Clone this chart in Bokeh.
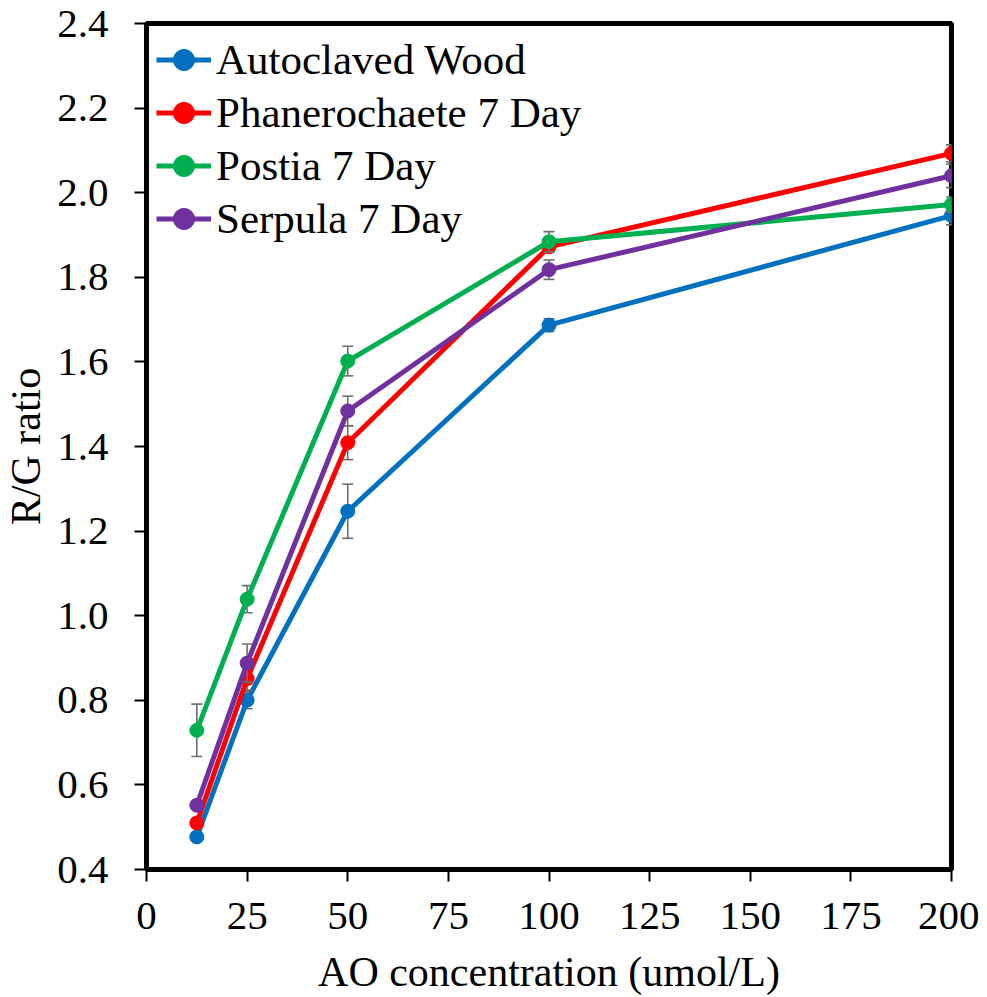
from bokeh.plotting import figure
from bokeh.models import Range1d, FixedTicker, Legend, LegendItem, ColumnDataSource, CustomJSTickFormatter
from bokeh.embed import file_html
from bokeh.resources import INLINE

# ---- data ----
concentration = [12.5, 25, 50, 100, 200]
x_ticks = [0, 25, 50, 75, 100, 125, 150, 175, 200]
y_ticks = [0.4, 0.6, 0.8, 1.0, 1.2, 1.4, 1.6, 1.8, 2.0, 2.2, 2.4]

series_names = ["Autoclaved Wood", "Phanerochaete 7 Day", "Postia 7 Day", "Serpula 7 Day"]
autoclaved = [0.477, 0.800, 1.247, 1.687, 1.946]
autoclaved_err = [0.010, 0.020, 0.064, 0.015, 0.022]
phanerochaete = [0.510, 0.851, 1.409, 1.872, 2.093]
phanerochaete_err = [0.010, 0.027, 0.040, 0.012, 0.020]
postia = [0.729, 1.039, 1.602, 1.884, 1.972]
postia_err = [0.062, 0.032, 0.035, 0.024, 0.018]
serpula = [0.552, 0.888, 1.484, 1.818, 2.040]
serpula_err = [0.010, 0.045, 0.035, 0.023, 0.028]

colors = ["#0070C0", "#FF0000", "#00B050", "#7030A0"]
err_color = "#6f6f6f"
FONT = "Liberation Serif"

p = figure(width=971, height=989, output_backend="svg", toolbar_location=None,
           x_range=Range1d(0, 200), y_range=Range1d(0.4, 2.4),
           min_border_left=138, min_border_top=23, min_border_right=28, min_border_bottom=120)
p.frame_width = 805
p.frame_height = 846

p.xgrid.visible = False
p.ygrid.visible = False
p.outline_line_color = "black"
p.outline_line_width = 5
p.background_fill_color = "white"
p.border_fill_color = "white"

for ax in (p.xaxis[0], p.yaxis[0]):
    ax.axis_line_width = 5
    ax.axis_line_color = "black"
    ax.major_tick_line_width = 2
    ax.major_tick_line_color = "black"
    ax.major_tick_in = 0
    ax.major_tick_out = 12
    ax.minor_tick_line_color = None
    ax.major_label_text_font = FONT
    ax.major_label_text_font_size = "41px"
    ax.major_label_text_color = "black"
    ax.axis_label_text_font = FONT
    ax.axis_label_text_font_size = "42px"
    ax.axis_label_text_font_style = "normal"
    ax.axis_label_text_color = "black"

p.xaxis[0].ticker = FixedTicker(ticks=x_ticks)
p.yaxis[0].ticker = FixedTicker(ticks=y_ticks)
p.yaxis[0].formatter = CustomJSTickFormatter(code="return tick.toFixed(1);")
p.xaxis[0].axis_label = "AO concentration (umol/L)"
p.yaxis[0].axis_label = "R/G ratio"
p.xaxis[0].major_label_standoff = 21
p.yaxis[0].major_label_standoff = 26
p.xaxis[0].axis_label_standoff = 17
p.yaxis[0].axis_label_standoff = 5

all_vals = [autoclaved, phanerochaete, postia, serpula]
all_errs = [autoclaved_err, phanerochaete_err, postia_err, serpula_err]

items = []
for name, vals, errs, col in zip(series_names, all_vals, all_errs, colors):
    lo = [v - e for v, e in zip(vals, errs)]
    hi = [v + e for v, e in zip(vals, errs)]
    src = ColumnDataSource(dict(x=concentration, y=vals, lo=lo, hi=hi))
    p.segment(x0="x", y0="lo", x1="x", y1="hi", source=src, line_color=err_color, line_width=1.6)
    p.scatter(x="x", y="lo", source=src, marker="dash", size=11, line_color=err_color, line_width=1.6)
    p.scatter(x="x", y="hi", source=src, marker="dash", size=11, line_color=err_color, line_width=1.6)
    ln = p.line(x="x", y="y", source=src, line_color=col, line_width=5)
    mk = p.scatter(x="x", y="y", source=src, marker="circle", size=14, fill_color=col, line_color=col)
    items.append(LegendItem(label=name, renderers=[ln, mk]))

legend = Legend(items=items, location="top_left", margin=10, padding=15, spacing=0,
                glyph_width=55, glyph_height=53, label_height=53, label_standoff=5,
                label_text_font=FONT, label_text_font_size="43px", label_text_color="black",
                border_line_color=None, background_fill_alpha=0)
p.add_layout(legend)

open("out.html", "w").write(file_html(p, INLINE))
